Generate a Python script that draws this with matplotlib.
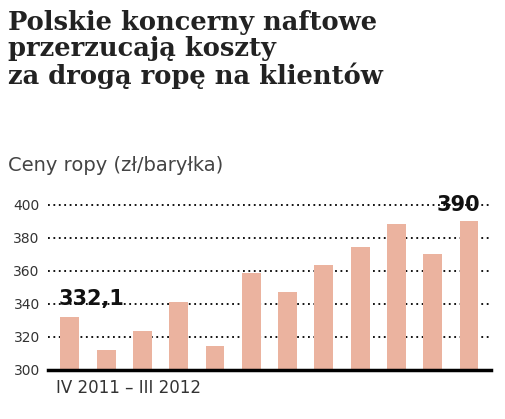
import matplotlib
matplotlib.use("Agg")
import matplotlib.pyplot as plt

values = [332.1, 312, 323.5, 341, 314.5, 359, 347, 363.5, 374.5, 388.5, 370, 390]
yticks = [300, 320, 340, 360, 380, 400]
title = "Polskie koncerny naftowe\nprzerzucają koszty\nza drogą ropę na klientów"

fig = plt.figure(figsize=(5.06, 4.19), dpi=100)
fig.text(0.015, 0.975, title, fontsize=18.5, fontweight="bold", family="DejaVu Serif",
         va="top", ha="left", color="#222222", linespacing=1.05)
fig.text(0.015, 0.605, "Ceny ropy (zł/baryłka)", fontsize=14, color="#444444", va="center")

ax = fig.add_axes([0.095, 0.117, 0.875, 0.394])
x = list(range(len(values)))
ax.bar(x, values, width=0.52, color="#EBB39F", zorder=2)
ax.set_ylim(300, 400)
ax.set_xlim(-0.6, len(values) - 0.4)
ax.set_yticks(yticks)
ax.set_yticklabels([str(t) for t in yticks], fontsize=10, color="#333333")
ax.tick_params(length=0, pad=6)
ax.set_xticks([])
for t in yticks[1:]:
    ax.axhline(t, color="black", linestyle=(0, (1, 2)), linewidth=1.3, zorder=1, clip_on=False)
for s in ["top", "right", "left"]:
    ax.spines[s].set_visible(False)
ax.spines["bottom"].set_linewidth(2.5)
ax.text(-0.3, values[0] + 5, "332,1", fontsize=15, fontweight="bold", ha="left", va="bottom",
        color="#111111", clip_on=False)
ax.text(11.3, values[-1] + 4, "390", fontsize=15, fontweight="bold", ha="right", va="bottom",
        color="#111111", clip_on=False)
fig.text(0.11, 0.075, "IV 2011 – III 2012", fontsize=12, color="#333333", va="center")
fig.savefig("out.png", dpi=100)
